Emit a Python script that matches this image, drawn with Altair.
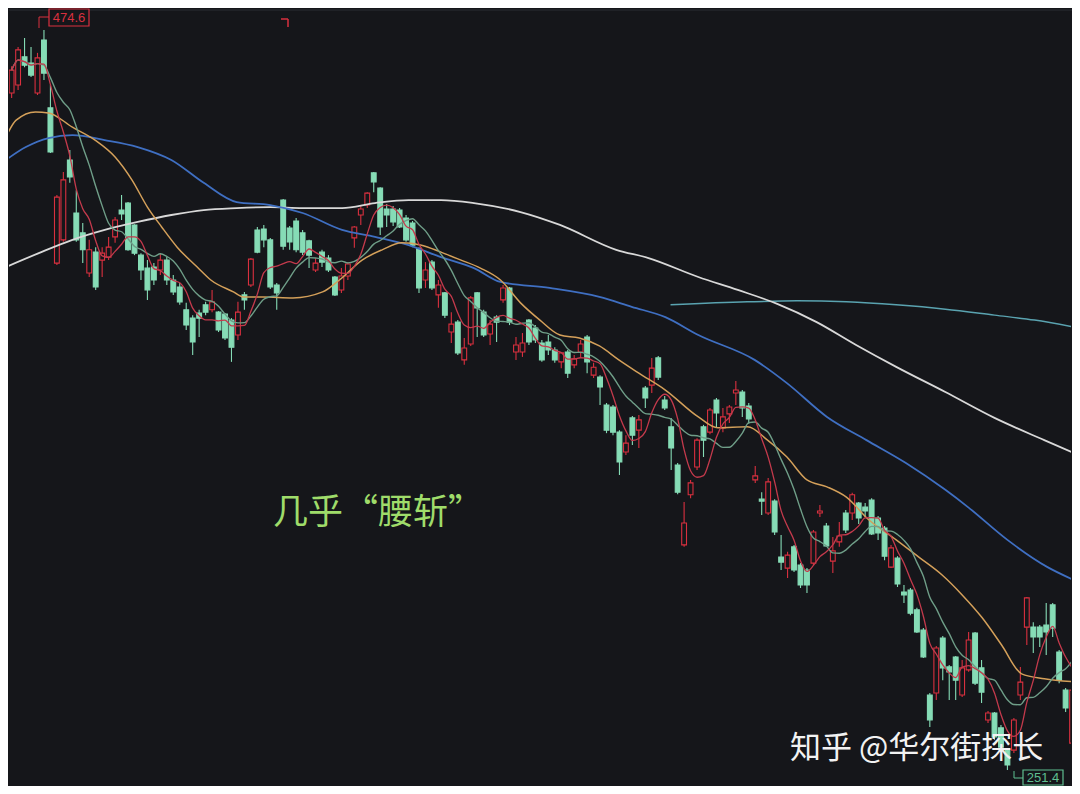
import altair as alt
import pandas as pd

# ---------------- data ----------------
opens = [455.6, 458.0, 466.5, 464.6, 455.6, 471.6, 451.1, 404.3, 411.3, 435.4,
         419.4, 413.4, 401.3, 407.6, 405.2, 406.1, 412.2, 420.3, 422.4, 415.8,
         406.7, 402.8, 403.1, 402.2, 405.2, 399.2, 397.1, 390.2, 387.7, 389.2,
         391.7, 390.2, 389.5, 388.9, 387.1, 382.6, 394.7, 397.7, 414.3, 414.6,
         411.3, 397.7, 423.3, 414.9, 417.0, 413.4, 411.0, 402.2, 407.6, 405.8,
         400.1, 396.2, 400.4, 411.9, 418.8, 421.8, 431.5, 426.9, 420.6, 420.6,
         420.3, 417.9, 416.4, 408.6, 399.2, 404.6, 394.7, 395.3, 383.5, 386.5,
         375.1, 379.9, 395.3, 389.5, 382.9, 388.0, 393.2, 396.8, 377.5, 377.5,
         387.1, 384.7, 380.2, 380.5, 378.1, 374.5, 377.5, 373.6, 377.5, 382.0,
         370.5, 369.9, 361.5, 360.9, 353.3, 347.3, 357.6, 353.9, 366.6, 367.5,
         375.7, 363.0, 354.9, 343.4, 319.3, 334.4, 342.8, 354.9, 353.3, 363.0,
         354.6, 358.8, 365.1, 365.4, 361.2, 338.9, 333.1, 328.9, 332.5, 315.6,
         312.3, 318.7, 313.2, 311.7, 313.8, 328.9, 325.0, 314.4, 320.2, 328.9,
         328.9, 331.9, 330.7, 332.8, 327.4, 324.4, 312.6, 315.3, 305.1, 305.7,
         299.7, 293.6, 274.0, 274.6, 291.2, 282.5, 285.5, 274.0, 281.6, 292.7,
         282.2, 266.5, 268.6, 264.1, 257.4, 257.4, 274.0, 294.5, 294.5, 294.5,
         295.1, 301.2, 287.0, 275.5, 259.5]
highs = [463.7, 469.5, 472.2, 469.5, 467.7, 474.6, 458.0, 424.8, 431.8, 438.4,
         426.3, 416.4, 411.3, 409.1, 409.1, 412.2, 418.2, 424.8, 422.7, 416.0,
         407.3, 405.2, 404.3, 407.3, 406.1, 400.7, 398.3, 392.3, 388.6, 390.2,
         392.6, 396.2, 389.8, 389.2, 387.7, 392.6, 395.6, 405.8, 415.2, 415.8,
         411.9, 398.3, 423.6, 415.5, 417.9, 414.3, 411.3, 405.8, 408.3, 406.7,
         400.4, 402.8, 404.6, 415.5, 421.5, 425.7, 431.8, 427.2, 422.1, 421.5,
         420.9, 418.8, 417.0, 409.1, 404.6, 405.2, 399.2, 395.6, 389.5, 387.1,
         381.7, 394.4, 395.6, 390.2, 387.1, 388.6, 397.7, 397.1, 382.0, 383.2,
         387.4, 385.6, 381.1, 382.6, 378.9, 377.5, 378.1, 376.6, 381.1, 382.6,
         374.2, 370.5, 362.1, 361.5, 353.9, 352.4, 358.2, 358.5, 367.2, 375.7,
         376.3, 364.2, 357.6, 344.0, 332.2, 338.9, 351.5, 355.5, 360.6, 363.6,
         360.6, 361.5, 368.7, 366.0, 362.1, 343.1, 335.2, 339.5, 333.1, 322.3,
         317.2, 319.3, 313.8, 312.3, 323.8, 331.3, 325.9, 321.7, 326.2, 329.8,
         335.0, 332.2, 331.9, 333.4, 328.0, 325.0, 319.3, 315.9, 307.2, 306.3,
         300.3, 294.2, 274.6, 288.8, 291.8, 283.1, 285.8, 284.6, 293.0, 293.0,
         284.6, 269.2, 268.9, 265.0, 258.0, 267.1, 282.5, 303.6, 296.0, 295.1,
         301.8, 301.8, 287.6, 276.1, 277.0]
lows = [454.1, 456.5, 463.4, 460.4, 455.0, 459.5, 437.5, 403.7, 410.7, 428.5,
        410.7, 404.3, 400.1, 396.2, 400.1, 405.2, 410.4, 417.3, 408.0, 406.7,
        399.2, 393.2, 397.7, 400.7, 397.7, 394.7, 391.7, 384.1, 376.6, 382.0,
        388.6, 389.5, 383.5, 381.1, 374.5, 381.1, 390.2, 397.1, 407.3, 409.1,
        396.5, 390.2, 408.3, 408.3, 407.6, 406.7, 402.8, 401.6, 403.1, 401.6,
        394.4, 395.3, 399.2, 408.9, 415.8, 420.9, 425.7, 412.8, 415.2, 415.5,
        414.9, 410.7, 409.1, 395.3, 396.8, 396.2, 390.8, 387.7, 380.2, 376.6,
        373.6, 379.3, 382.0, 382.0, 379.6, 380.5, 392.3, 385.6, 375.1, 376.0,
        379.6, 380.2, 374.5, 376.6, 374.2, 372.6, 369.6, 372.6, 375.7, 371.1,
        369.6, 361.5, 353.0, 352.4, 340.4, 346.4, 349.4, 348.5, 360.6, 365.1,
        369.0, 360.0, 341.9, 334.6, 318.7, 333.4, 341.9, 345.8, 352.7, 354.6,
        353.3, 356.1, 361.5, 357.9, 355.8, 338.0, 328.3, 328.3, 322.3, 311.7,
        309.3, 311.1, 306.3, 304.8, 313.2, 327.7, 318.7, 310.8, 318.7, 322.9,
        326.8, 325.6, 327.7, 322.3, 320.8, 314.7, 312.3, 306.6, 301.8, 298.1,
        292.7, 285.2, 264.4, 272.5, 278.5, 272.5, 272.5, 273.4, 281.0, 277.0,
        271.6, 265.6, 260.5, 257.4, 251.4, 256.5, 272.5, 289.1, 286.7, 288.5,
        286.1, 291.5, 277.6, 268.9, 258.9]
closes = [462.5, 468.6, 464.0, 461.0, 466.2, 461.6, 437.8, 424.2, 429.4, 430.3,
          411.3, 408.3, 408.3, 397.1, 407.3, 409.1, 417.3, 419.1, 408.3, 407.3,
          402.2, 396.2, 399.2, 405.2, 399.2, 395.6, 392.6, 385.6, 380.5, 387.7,
          389.5, 392.6, 384.1, 381.7, 378.9, 389.5, 393.2, 405.5, 407.6, 411.3,
          397.1, 395.3, 409.4, 410.7, 408.3, 407.6, 406.7, 404.3, 404.6, 402.2,
          394.7, 400.4, 404.0, 415.2, 420.6, 425.4, 428.8, 415.2, 418.8, 416.7,
          415.2, 411.3, 409.7, 396.8, 402.2, 396.8, 397.7, 388.6, 385.9, 377.2,
          378.7, 393.8, 390.8, 382.6, 385.9, 386.5, 396.8, 386.5, 379.6, 380.2,
          380.5, 381.1, 375.1, 378.1, 375.1, 377.2, 371.1, 375.4, 379.9, 374.5,
          372.9, 366.9, 353.9, 353.3, 344.3, 350.0, 352.4, 357.0, 363.6, 372.6,
          369.9, 360.6, 348.5, 335.2, 325.9, 338.0, 350.9, 350.9, 360.0, 359.1,
          357.9, 360.9, 366.0, 360.6, 357.3, 340.1, 332.5, 338.3, 323.2, 314.1,
          316.2, 311.7, 307.2, 307.2, 323.2, 329.5, 319.0, 317.5, 322.0, 323.8,
          334.4, 327.4, 329.5, 322.6, 322.9, 315.9, 318.4, 307.5, 304.2, 298.7,
          293.0, 285.5, 266.5, 288.2, 282.2, 281.0, 278.5, 282.2, 290.6, 277.6,
          274.9, 268.6, 261.4, 258.3, 252.9, 266.5, 277.9, 303.3, 291.5, 291.5,
          293.0, 294.2, 278.5, 270.1, 275.5]

# moving-average curves (bar index, price)
ma20_x = [-0.9, 0.7, 3.7, 5.7, 9.4, 12.9, 16.0, 18.6, 21.0, 23.2, 25.6, 28.7, 30.8,
          34.3, 35.8, 38.9, 43.5, 48.1, 50.7, 54.2, 57.3, 60.3, 63.4, 66.4, 69.5,
          72.5, 75.6, 78.7, 81.7, 84.8, 87.8, 90.9, 93.9, 97.0, 101.1, 106.2, 109.2,
          113.8, 116.9, 119.9, 123.0, 126.1, 129.1, 132.6, 136.8, 140.3, 143.9,
          147.0, 150.1, 153.1, 156.2, 159.7, 164.3]
ma20_v = [442.3, 447.4, 449.9, 449.6, 445.3, 441.4, 436.3, 429.4, 421.2, 415.2, 409.1,
          403.1, 399.2, 395.6, 394.1, 394.1, 393.8, 395.6, 399.2, 405.2, 408.3, 410.4,
          409.7, 407.6, 405.2, 402.8, 399.2, 392.3, 387.1, 382.6, 381.7, 379.3, 375.1,
          371.1, 366.0, 357.9, 354.6, 354.9, 350.9, 345.8, 338.9, 336.8, 333.7, 326.8,
          320.8, 315.6, 310.2, 304.2, 297.3, 289.1, 280.4, 278.9, 278.0]
ma60_x = [-0.9, 2.2, 5.7, 9.4, 14.4, 19.5, 24.7, 29.7, 34.8, 40.0, 45.0, 51.1, 56.2,
          61.4, 66.4, 71.5, 75.6, 83.2, 90.9, 95.9, 101.1, 106.2, 114.9, 119.9, 126.1,
          132.2, 138.3, 144.4, 147.9, 154.0, 160.2, 164.3]
ma60_v = [435.4, 439.3, 442.0, 442.9, 441.4, 439.3, 435.4, 428.5, 422.7, 421.8, 419.4,
          414.3, 412.2, 409.7, 406.1, 402.8, 398.6, 396.8, 394.1, 391.1, 388.0, 382.6,
          375.1, 368.1, 357.9, 350.9, 344.0, 335.9, 330.7, 320.8, 312.6, 308.7]
ma120_x = [-0.9, 4.2, 9.4, 14.4, 19.5, 24.7, 29.7, 34.8, 40.0, 45.0, 51.1, 56.2, 61.4,
           66.4, 71.5, 78.7, 84.8, 93.5, 98.5, 106.2, 112.3, 118.4, 124.5, 130.6,
           136.8, 144.4, 152.0, 159.7, 164.3]
ma120_v = [403.1, 407.3, 411.3, 414.3, 416.7, 418.8, 420.3, 420.9, 421.2, 420.9, 420.9,
           422.4, 423.3, 423.3, 422.4, 419.7, 415.8, 408.3, 405.8, 400.1, 396.2, 392.0,
           386.5, 379.6, 373.0, 365.4, 357.6, 350.9, 347.0]
ma250_x = [101.9, 113.8, 121.5, 129.1, 136.8, 144.4, 152.0, 158.2, 164.3]
ma250_v = [391.7, 392.6, 392.9, 392.6, 391.7, 390.4, 388.6, 387.1, 385.0]

title_text = "几乎“腰斩”"
watermark = "知乎 @华尔街探长"

# ---------------- styling ----------------
BG = "#15161a"
UP = "#d9303f"
DOWN = "#86dcb6"
W, H = 1064, 778
X_DOM = [0.367, 163.06]
Y_DOM = [246.57, 481.24]

df = pd.DataFrame({"i": list(range(len(opens))), "open": opens, "high": highs,
                   "low": lows, "close": closes})
df["dir"] = ["up" if c >= o else "down" for o, c in zip(opens, closes)]

xs = alt.Scale(domain=X_DOM, nice=False, zero=False)
ys = alt.Scale(domain=Y_DOM, nice=False, zero=False)
stroke_scale = alt.Scale(domain=["up", "down"], range=[UP, DOWN])
fill_scale = alt.Scale(domain=["up", "down"], range=[BG, DOWN])

base = alt.Chart(df)
wick = base.mark_rule(strokeWidth=1.1, clip=True).encode(
    x=alt.X("i:Q", scale=xs, axis=None),
    y=alt.Y("low:Q", scale=ys, axis=None),
    y2="high:Q",
    stroke=alt.Stroke("dir:N", scale=stroke_scale, legend=None),
)
body = base.mark_bar(size=4.8, strokeWidth=1.1, clip=True).encode(
    x=alt.X("i:Q", scale=xs, axis=None),
    y=alt.Y("open:Q", scale=ys, axis=None),
    y2="close:Q",
    fill=alt.Fill("dir:N", scale=fill_scale, legend=None),
    stroke=alt.Stroke("dir:N", scale=stroke_scale, legend=None),
)

def ma_window(n, color, w):
    return base.transform_window(
        ma="mean(close)", frame=[-(n - 1), 0], sort=[alt.SortField("i")]
    ).mark_line(color=color, strokeWidth=w, interpolate="monotone", clip=True).encode(
        x=alt.X("i:Q", scale=xs, axis=None),
        y=alt.Y("ma:Q", scale=ys, axis=None),
    )

def ma_read(xv, yv, color, w):
    d = pd.DataFrame({"i": xv, "v": yv})
    return alt.Chart(d).mark_line(color=color, strokeWidth=w, interpolate="monotone",
                                  clip=True).encode(
        x=alt.X("i:Q", scale=xs, axis=None),
        y=alt.Y("v:Q", scale=ys, axis=None),
    )

ma5 = ma_window(5, "#c43a4c", 1.3)
ma10 = ma_window(10, "#6f9e88", 1.4)
ma20 = ma_read(ma20_x, ma20_v, "#d4a05a", 1.5)
ma60 = ma_read(ma60_x, ma60_v, "#3f6fc2", 1.8)
ma120 = ma_read(ma120_x, ma120_v, "#d8d8d8", 1.8)
ma250 = ma_read(ma250_x, ma250_v, "#5aa3b0", 1.5)

one = pd.DataFrame({"k": [0]})
ann = alt.Chart(one)

top_line = ann.mark_rule(color="#2a2c33", strokeWidth=1).encode(
    x=alt.value(0), x2=alt.value(W), y=alt.value(2))

hi_label = f"{max(highs):.1f}"
lo_label = f"{min(lows):.1f}"

hi_box = ann.mark_rect(fill=BG, stroke=UP, strokeWidth=1.2).encode(
    x=alt.value(40), x2=alt.value(80), y=alt.value(1), y2=alt.value(18))
hi_txt = ann.mark_text(text=hi_label, color=UP, fontSize=13, font="Liberation Sans",
                       align="center", baseline="middle").encode(
    x=alt.value(60), y=alt.value(10))
hi_c1 = ann.mark_rule(color=UP, strokeWidth=1).encode(
    x=alt.value(30), y=alt.value(9), y2=alt.value(20))
hi_c2 = ann.mark_rule(color=UP, strokeWidth=1).encode(
    x=alt.value(30), x2=alt.value(40), y=alt.value(9))

corner1 = ann.mark_rule(color=UP, strokeWidth=1.5).encode(
    x=alt.value(272), x2=alt.value(279), y=alt.value(11))
corner2 = ann.mark_rule(color=UP, strokeWidth=1.5).encode(
    x=alt.value(279), y=alt.value(11), y2=alt.value(19))

LO_C = "#5fbf90"
lo_box = ann.mark_rect(fill=BG, stroke=LO_C, strokeWidth=1.2).encode(
    x=alt.value(1014), x2=alt.value(1054), y=alt.value(762), y2=alt.value(777))
lo_txt = ann.mark_text(text=lo_label, color=LO_C, fontSize=13, font="Liberation Sans",
                       align="center", baseline="middle").encode(
    x=alt.value(1034), y=alt.value(770))
lo_c1 = ann.mark_rule(color=LO_C, strokeWidth=1).encode(
    x=alt.value(1005), y=alt.value(763), y2=alt.value(770))
lo_c2 = ann.mark_rule(color=LO_C, strokeWidth=1).encode(
    x=alt.value(1005), x2=alt.value(1014), y=alt.value(770))

title = ann.mark_text(text=title_text, color="#9fdc6a", fontSize=35,
                      font="Noto Sans CJK SC", align="left", baseline="alphabetic").encode(
    x=alt.value(264), y=alt.value(516))
wm = ann.mark_text(text=watermark, color="#f2f2f2", fontSize=31,
                   font="Noto Sans CJK SC", align="left", baseline="alphabetic").encode(
    x=alt.value(781), y=alt.value(750))

chart = alt.layer(
    top_line, wick, body, ma250, ma120, ma60, ma20, ma10, ma5,
    hi_c1, hi_c2, hi_box, hi_txt, corner1, corner2,
    lo_c1, lo_c2, lo_box, lo_txt, title, wm,
).properties(
    width=W, height=H, background=BG, padding=0,
    autosize=alt.AutoSizeParams(type="fit", contains="padding"),
).configure_view(stroke=None)

chart.save("out.html", embed_options={"renderer": "svg", "actions": False})
